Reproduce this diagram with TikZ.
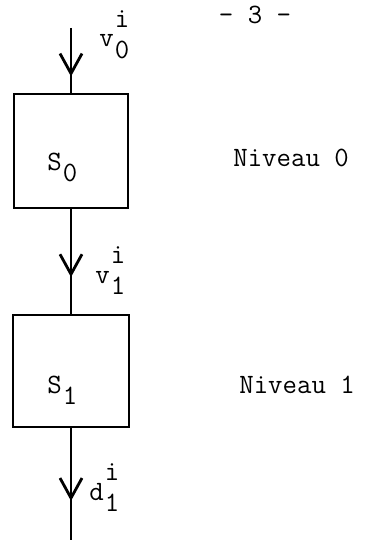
\documentclass[tikz,border=0pt]{standalone}
\usepackage{fontspec}
\usetikzlibrary{arrows.meta,decorations.markings}
\newcommand\sx[3]{#1\kern1pt\makebox[0pt][l]{\raisebox{0.7em}{#2}}\raisebox{-0.42em}{#3}}
\begin{document}
\begin{tikzpicture}[x=1pt,y=-1pt, line width=2.8pt,
 every node/.style={font=\ttfamily\fontsize{28}{32}\selectfont, inner sep=0pt},
 box/.style={draw, minimum width=114pt, minimum height=114pt},
 midarrow/.style={postaction={decorate}, decoration={markings, mark=at position #1 with {\arrow{Straight Barb[length=20pt,width=22pt,line width=2.8pt]}}}}
]
\useasboundingbox (0,0) rectangle (368,543);
\node[box] (s0) at (71,151) {};
\node[box, minimum width=116pt, minimum height=112pt] (s1) at (71,371) {};
\coordinate (in) at (71,28);
\coordinate (out) at (71,540);
\draw[midarrow=0.75] (in) -- (s0.north);
\draw[midarrow=0.65] (s0.south) -- (s1.north);
\draw[midarrow=0.65] (s1.south) -- (out);
\node[anchor=base west] (v0) at (98,47) {\sx{v}{i}{0}};
\node[anchor=base west] (s0l) at (46,170) {\sx{S}{}{0}};
\node[anchor=base west] (n0) at (232,166) {Niveau 0};
\node[anchor=base west] (v1) at (94,283) {\sx{v}{i}{1}};
\node[anchor=base west] (s1l) at (46,393) {\sx{S}{}{1}};
\node[anchor=base west] (n1) at (238,393) {Niveau 1};
\node[anchor=base west] (d1) at (88,500) {\sx{d}{i}{1}};
\node[anchor=base] (pg) at (255,24) {- 3 -};
\end{tikzpicture}
\end{document}
